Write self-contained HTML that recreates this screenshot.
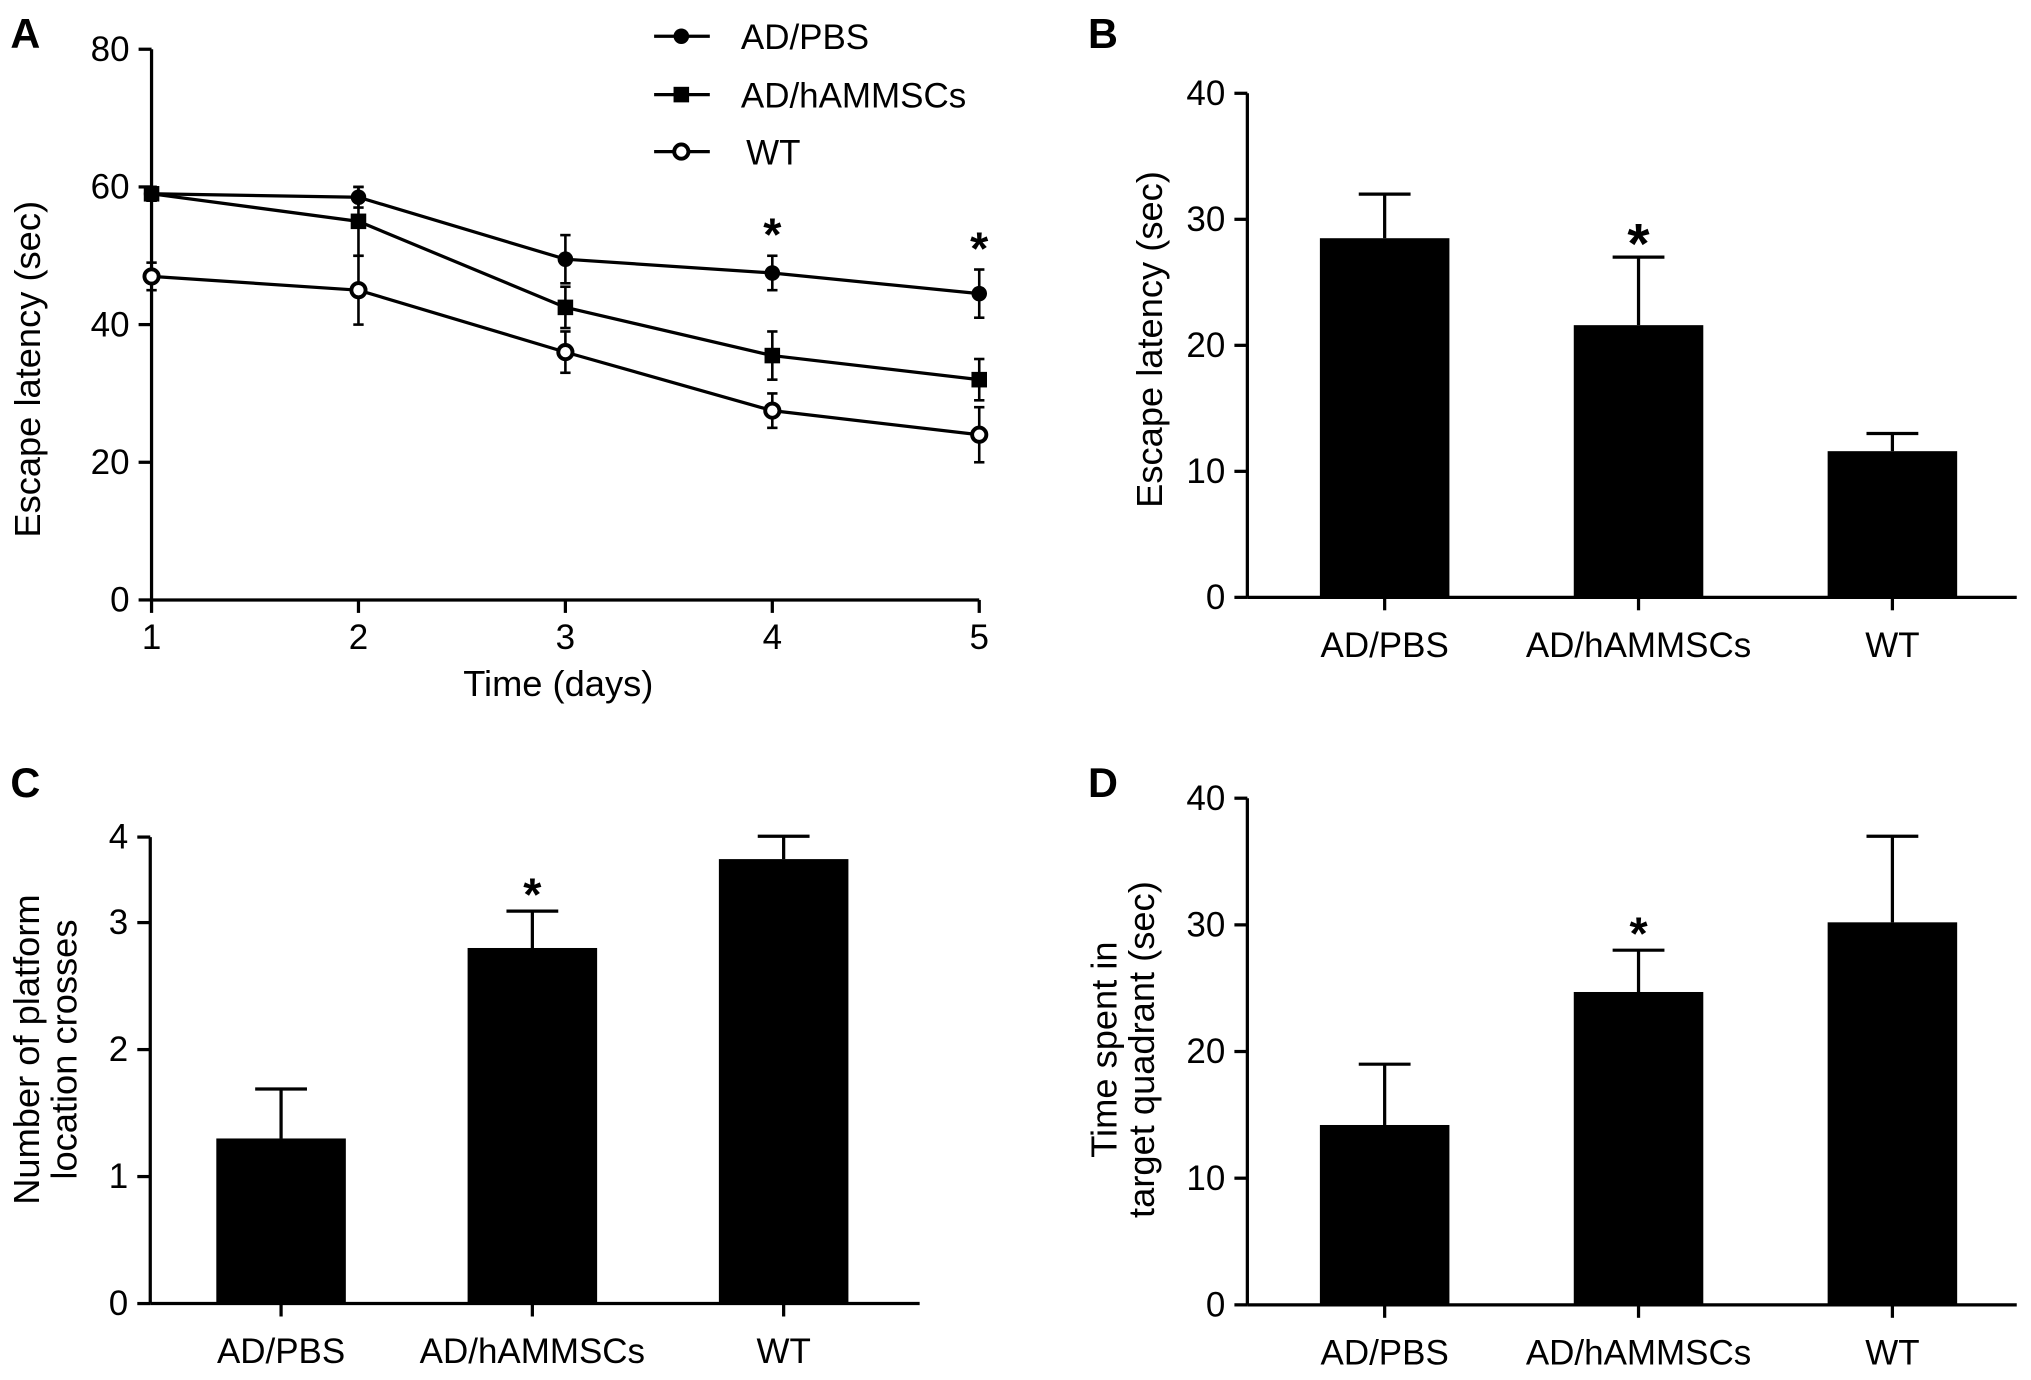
<!DOCTYPE html>
<html><head><meta charset="utf-8"><style>
html,body{margin:0;padding:0;background:#fff;}
svg{display:block;font-family:"Liberation Sans",Arial,sans-serif;}
</style></head><body>
<svg id="fig" width="2031" height="1380" viewBox="0 0 1568 1065" preserveAspectRatio="none" xmlns="http://www.w3.org/2000/svg"></svg>
<script>
// Panel A data
const daysA=[1,2,3,4,5];
const pbsA=[59,58.5,49.5,47.5,44.5];
const pbsErrA=[1,1.5,3.5,2.5,3.5];
const hamA=[59,55,42.5,35.5,32];
const hamErrA=[1,5,3,3.5,3];
const wtA=[47,45,36,27.5,24];
const wtErrA=[2,5,3,2.5,4];
const starDaysA=[4,5];
const yTicksA=[0,20,40,60,80];
// Bar panels
const groups=["AD/PBS","AD/hAMMSCs","WT"];
const valsB=[28.5,21.6,11.6];
const errB=[3.5,5.4,1.4];
const yTicksB=[0,10,20,30,40];
const valsC=[1.3,2.8,3.5];
const errC=[0.39,0.29,0.18];
const yTicksC=[0,1,2,3];
const valsD=[14.2,24.7,30.2];
const errD=[4.8,3.3,6.8];
const yTicksD=[0,10,20,30,40];

const svg=document.getElementById('fig');
const NS="http://www.w3.org/2000/svg";
const FS=27;
function el(tag,attrs,parent){const e=document.createElementNS(NS,tag);for(const k in attrs)e.setAttribute(k,attrs[k]);(parent||svg).appendChild(e);return e;}
function txt(x,y,s,size,anchor,parent,extra){const t=el('text',Object.assign({x:x,y:y,'font-size':size,'text-anchor':anchor||'middle',fill:'#000'},extra||{}),parent);t.textContent=s;return t;}

[["A",8,37],["B",840,37],["C",8,615],["D",840,615]].forEach(p=>{
  const t=txt(p[1],p[2],p[0],32,'start',svg,{'font-weight':'bold'});
  
  
});

// ---------- Panel A ----------
const gA=el('g',{});


const xA=d=>117+(d-1)*(756-117)/4;
const yA=v=>463-v*(463-38)/80;
el('line',{x1:117,y1:38,x2:117,y2:463,stroke:'#000','stroke-width':2.5},gA);
el('line',{x1:117,y1:463,x2:756,y2:463,stroke:'#000','stroke-width':2.5},gA);
yTicksA.forEach(v=>{el('line',{x1:107,y1:yA(v),x2:117,y2:yA(v),stroke:'#000','stroke-width':2.5},gA);
  const t=txt(100,yA(v)+9,String(v),FS,'end',gA);});
daysA.forEach(d=>{el('line',{x1:xA(d),y1:463,x2:xA(d),y2:473,stroke:'#000','stroke-width':2.5},gA);
  const t=txt(xA(d),501,String(d),FS,'middle',gA);});
const xt=txt(431,537,"Time (days)",28,'middle',gA);
const yt=txt(0,0,"Escape latency (sec)",28,'middle',gA,{transform:'translate(31,285) rotate(-90)'});

function marker(x,y,type,g){
  if(type==='circle')return el('circle',{cx:x,cy:y,r:6,fill:'#000'},g);
  if(type==='square')return el('rect',{x:x-6,y:y-6,width:12,height:12,fill:'#000'},g);
  return el('circle',{cx:x,cy:y,r:5.5,fill:'#fff',stroke:'#000','stroke-width':3},g);
}
function series(vals,errs,type,name){
  const g=el('g',{},gA);
  
  
  el('polyline',{points:vals.map((v,i)=>xA(daysA[i])+','+yA(v)).join(' '),fill:'none',stroke:'#000','stroke-width':2.5},g);
  vals.forEach((v,i)=>{const x=xA(daysA[i]);
    el('line',{x1:x,y1:yA(v-errs[i]),x2:x,y2:yA(v+errs[i]),stroke:'#000','stroke-width':2},g);
    [v-errs[i],v+errs[i]].forEach(e=>el('line',{x1:x-4,y1:yA(e),x2:x+4,y2:yA(e),stroke:'#000','stroke-width':2},g));
    const m=marker(x,yA(v),type,g);
    
    
  });
}
series(pbsA,pbsErrA,'circle','ad-pbs');
series(hamA,hamErrA,'square','ad-hammscs');
series(wtA,wtErrA,'open','wt');
starDaysA.forEach(d=>{const i=daysA.indexOf(d);const s=txt(xA(d),yA(pbsA[i]+pbsErrA[i])-4,"*",36,'middle',gA,{'font-weight':'bold'});
  });
[["AD/PBS",'circle',28],["AD/hAMMSCs",'square',73],["WT",'open',117]].forEach(l=>{
  const g=el('g',{},gA);
  
  
  el('line',{x1:505,y1:l[2],x2:548,y2:l[2],stroke:'#000','stroke-width':2.5},g);
  marker(526,l[2],l[1],g);
  txt(l[1]==='open'?576:572,l[2]+10,l[0],FS,'start',g);
});

// ---------- Bar panels ----------
function barPanel(opt){
  const g=el('g',{});
  
  
  const y=v=>opt.y0-v*opt.unit;
  el('line',{x1:opt.ax,y1:opt.top,x2:opt.ax,y2:opt.y0,stroke:'#000','stroke-width':2.5},g);
  el('line',{x1:opt.ax,y1:opt.y0,x2:opt.xend,y2:opt.y0,stroke:'#000','stroke-width':2.5},g);
  const ticks=opt.ticks.map(v=>[y(v),String(v)]);
  if(opt.topLabel)ticks.push([opt.top,opt.topLabel]);
  ticks.forEach(t=>{el('line',{x1:opt.ax-10,y1:t[0],x2:opt.ax,y2:t[0],stroke:'#000','stroke-width':2.5},g);
    const l=txt(opt.ax-17,t[0]+9,t[1],FS,'end',g);});
  opt.vals.forEach((v,i)=>{const cx=opt.centers[i];
    el('line',{x1:cx,y1:y(v),x2:cx,y2:y(v+opt.errs[i]),stroke:'#000','stroke-width':2.5},g);
    el('line',{x1:cx-20,y1:y(v+opt.errs[i]),x2:cx+20,y2:y(v+opt.errs[i]),stroke:'#000','stroke-width':2.5},g);
    const b=el('rect',{x:cx-50,y:y(v),width:100,height:v*opt.unit,fill:'#000'},g);
    
    
    el('line',{x1:cx,y1:opt.y0,x2:cx,y2:opt.y0+10,stroke:'#000','stroke-width':2.5},g);
    const l=txt(cx,opt.y0+46,groups[i],FS,'middle',g);
  });
  const si=opt.star;const s=txt(opt.centers[si],y(opt.vals[si]+opt.errs[si])-10+opt.starSize*0.6-12,"*",opt.starSize,'middle',g,{'font-weight':'bold'});
  
  opt.title.forEach((line,k)=>{const t=txt(0,0,line,28,'middle',g,{transform:'translate('+(opt.titleX+k*29)+','+opt.titleY+') rotate(-90)'});
    });
}
barPanel({name:'panel-b-bar-chart',ax:963,y0:461,top:72,xend:1557,unit:(461-72)/40,ticks:yTicksB,vals:valsB,errs:errB,centers:[1069,1265,1461],star:1,starSize:44,title:["Escape latency (sec)"],titleX:897,titleY:262});
barPanel({name:'panel-c-bar-chart',ax:116,y0:1006,top:646,xend:710,unit:98,ticks:yTicksC,topLabel:"4",vals:valsC,errs:errC,centers:[217,411,605],star:1,starSize:36,title:["Number of platform","location crosses"],titleX:30,titleY:810});
barPanel({name:'panel-d-bar-chart',ax:963,y0:1007,top:616,xend:1557,unit:(1007-616)/40,ticks:yTicksD,vals:valsD,errs:errD,centers:[1069,1265,1461],star:1,starSize:36,title:["Time spent in","target quadrant (sec)"],titleX:862,titleY:810});
</script>
</body></html>
